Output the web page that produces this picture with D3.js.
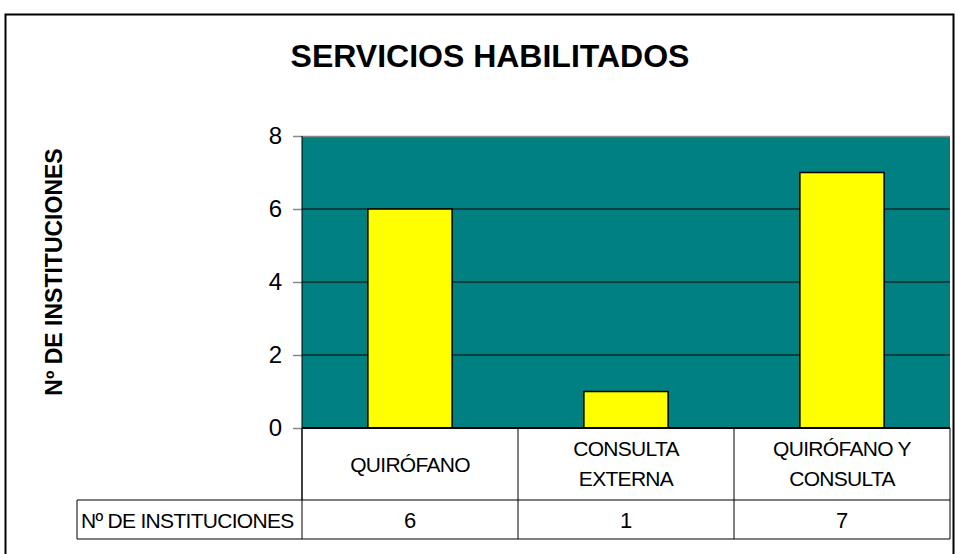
<!DOCTYPE html>
<html>
<head>
<meta charset="utf-8">
<script src="https://cdn.jsdelivr.net/npm/d3@7"></script>
<style>
  body { margin: 0; background: #fff; }
  svg { display: block; font-family: "Liberation Sans", Arial, sans-serif; }
</style>
</head>
<body>
<div class="chart"></div>
<script>
const categories = [['QUIRÓFANO'], ['CONSULTA', 'EXTERNA'], ['QUIRÓFANO Y', 'CONSULTA']]
const values = [6, 1, 7]
const seriesName = 'Nº DE INSTITUCIONES'
const yTicks = [0, 2, 4, 6, 8]
const title = 'SERVICIOS HABILITADOS'

const fullWidth = 955, fullHeight = 554
const plot = { left: 302, right: 950, top: 136, bottom: 428 }
const tableLeft = 77, row1Bottom = 500, row2Bottom = 539

const svg = d3.select('.chart').append('svg')
    .attr('width', fullWidth)
    .attr('height', fullHeight)

// outer frame
svg.append('rect')
    .attr('x', 5.5).attr('y', 14.5)
    .attr('width', 948).attr('height', 560)
    .attr('fill', 'none').attr('stroke', '#000').attr('stroke-width', 2)

svg.append('text')
    .attr('x', 490).attr('y', 67)
    .attr('text-anchor', 'middle')
    .style('font-size', '32px').style('font-weight', 'bold')
    .text(title)

const xScale = d3.scaleBand()
    .domain(d3.range(values.length))
    .range([plot.left, plot.right])

const yScale = d3.scaleLinear()
    .domain([0, 8])
    .range([plot.bottom, plot.top])

// plot background
svg.append('rect')
    .attr('x', plot.left).attr('y', plot.top)
    .attr('width', plot.right - plot.left).attr('height', plot.bottom - plot.top)
    .attr('fill', '#008080')

// gridlines
svg.append('g').selectAll('line')
    .data(yTicks.filter(t => t > 0 && t < 8))
    .enter().append('line')
    .attr('x1', plot.left).attr('x2', plot.right)
    .attr('y1', d => yScale(d)).attr('y2', d => yScale(d))
    .attr('stroke', '#0d2b2b').attr('stroke-width', 1.5)

svg.append('line')
    .attr('x1', plot.left).attr('x2', plot.right)
    .attr('y1', plot.top + 0.5).attr('y2', plot.top + 0.5)
    .attr('stroke', '#888').attr('stroke-width', 1.5)

// bars
const barW = xScale.bandwidth() * 0.39
svg.append('g').selectAll('rect')
    .data(values)
    .enter().append('rect')
    .attr('x', (d, i) => xScale(i) + xScale.bandwidth() / 2 - barW / 2)
    .attr('y', d => yScale(d))
    .attr('width', barW)
    .attr('height', d => yScale(0) - yScale(d))
    .attr('fill', '#ffff00')
    .attr('stroke', '#000').attr('stroke-width', 1.5)

// y axis
const yAxis = d3.axisLeft(yScale).tickValues(yTicks).tickSize(9).tickPadding(11)
const gY = svg.append('g')
    .attr('transform', `translate(${plot.left},0)`)
    .style('font-size', '24px')
    .call(yAxis)
gY.select('.domain').remove()
gY.selectAll('.tick line').attr('stroke', '#888').attr('stroke-width', 1.5)
gY.selectAll('.tick text').attr('fill', '#000').style('font-family', '"Liberation Sans", Arial, sans-serif')

svg.append('line')
    .attr('x1', plot.left).attr('x2', plot.left)
    .attr('y1', plot.top).attr('y2', row1Bottom)
    .attr('stroke', '#000').attr('stroke-width', 1)

svg.append('line')
    .attr('x1', plot.left).attr('x2', plot.right)
    .attr('y1', plot.bottom).attr('y2', plot.bottom)
    .attr('stroke', '#000').attr('stroke-width', 2)

svg.append('text')
    .attr('transform', `translate(62,272) rotate(-90)`)
    .attr('text-anchor', 'middle')
    .style('font-size', '23px').style('font-weight', 'bold')
    .text(seriesName)

// data table
const table = svg.append('g').attr('stroke', '#000').attr('stroke-width', 1)
const edges = d3.range(values.length + 1).map(i => i < values.length ? xScale(i) : plot.right)
edges.forEach(x => {
    table.append('line').attr('x1', x).attr('x2', x).attr('y1', plot.bottom).attr('y2', row2Bottom)
})
table.append('line').attr('x1', tableLeft).attr('x2', tableLeft).attr('y1', row1Bottom).attr('y2', row2Bottom)
table.append('line').attr('x1', tableLeft).attr('x2', plot.right).attr('y1', row1Bottom).attr('y2', row1Bottom)
table.append('line').attr('x1', tableLeft).attr('x2', plot.right).attr('y1', row2Bottom).attr('y2', row2Bottom)

const catG = svg.append('g').selectAll('text')
    .data(categories)
    .enter().append('text')
    .attr('text-anchor', 'middle')
    .style('font-size', '21px').style('letter-spacing', '-0.7px')
    .attr('y', d => d.length === 1 ? 472 : 456)
catG.selectAll('tspan')
    .data((d, i) => d.map(t => ({ t, i })))
    .enter().append('tspan')
    .attr('x', d => xScale(d.i) + xScale.bandwidth() / 2)
    .attr('dy', (d, j) => j === 0 ? 0 : 30)
    .text(d => d.t)

svg.append('text')
    .attr('x', tableLeft + 4).attr('y', 528)
    .style('font-size', '21px').style('letter-spacing', '-0.7px')
    .text(seriesName)

svg.append('g').selectAll('text')
    .data(values)
    .enter().append('text')
    .attr('x', (d, i) => xScale(i) + xScale.bandwidth() / 2)
    .attr('y', 528)
    .attr('text-anchor', 'middle')
    .style('font-size', '22px')
    .text(d => d)
</script>
</body>
</html>
